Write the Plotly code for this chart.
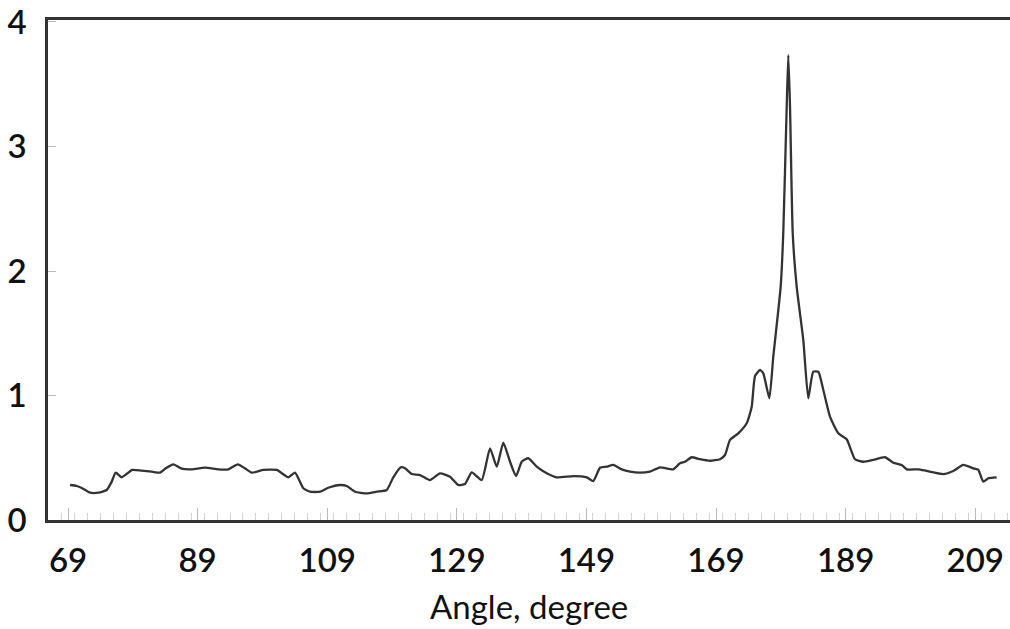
import plotly.graph_objects as go

angle = [69.31, 70.34, 71.11, 72.40, 73.68, 74.97, 75.74, 76.36, 77.29, 78.92,
         80.37, 81.92, 83.20, 84.08, 85.25, 86.55, 88.09, 90.14, 92.19, 93.74,
         95.19, 96.31, 97.35, 99.14, 101.21, 103.00, 104.03, 105.31, 106.35, 107.89,
         109.17, 110.98, 112.01, 113.29, 115.10, 116.64, 118.18, 119.20, 120.34, 121.01,
         122.04, 123.32, 124.86, 126.41, 127.95, 129.23, 130.27, 131.30, 132.84, 134.12,
         135.16, 136.18, 137.21, 138.14, 139.02, 140.03, 141.33, 142.87, 144.42, 146.98,
         149.05, 150.06, 151.10, 152.13, 153.15, 154.45, 155.73, 157.27, 158.81, 160.36,
         162.41, 163.44, 164.21, 165.25, 166.53, 168.07, 169.62, 170.39, 171.16, 172.44,
         173.74, 174.51, 175.02, 175.79, 176.30, 177.23, 177.84, 178.98, 179.38, 179.91,
         180.16, 180.42, 180.84, 181.45, 182.47, 183.24, 184.01, 184.79, 185.56, 186.59,
         187.88, 189.17, 190.45, 191.73, 193.27, 195.08, 196.36, 197.66, 198.43, 200.22,
         201.51, 204.08, 205.62, 207.16, 208.71, 209.48, 210.25, 211.02, 212.31]

value = [0.281, 0.273, 0.257, 0.219, 0.219, 0.241, 0.308, 0.380, 0.343, 0.402,
         0.396, 0.388, 0.380, 0.415, 0.447, 0.412, 0.407, 0.420, 0.407, 0.407,
         0.447, 0.415, 0.380, 0.402, 0.402, 0.343, 0.380, 0.255, 0.227, 0.227,
         0.259, 0.281, 0.273, 0.227, 0.214, 0.227, 0.241, 0.343, 0.423, 0.415,
         0.369, 0.361, 0.321, 0.375, 0.348, 0.281, 0.289, 0.383, 0.321, 0.576,
         0.428, 0.621, 0.468, 0.353, 0.468, 0.496, 0.428, 0.375, 0.343, 0.353,
         0.343, 0.313, 0.420, 0.428, 0.442, 0.407, 0.388, 0.380, 0.388, 0.423,
         0.407, 0.455, 0.468, 0.504, 0.488, 0.476, 0.488, 0.522, 0.643, 0.696,
         0.777, 0.910, 1.157, 1.205, 1.178, 0.978, 1.312, 1.874, 2.303, 3.320,
         3.735, 3.320, 2.303, 1.874, 1.446, 0.978, 1.191, 1.191, 1.044, 0.830,
         0.696, 0.648, 0.488, 0.468, 0.482, 0.504, 0.460, 0.442, 0.407, 0.407,
         0.394, 0.369, 0.394, 0.442, 0.415, 0.402, 0.308, 0.335, 0.343]

x_ticks = [69, 89, 109, 129, 149, 169, 189, 209]
y_ticks = [0, 1, 2, 3, 4]
x_title = "Angle, degree"

FONT = "Lato"

fig = go.Figure()
fig.add_trace(go.Scatter(
    x=angle, y=value, mode="lines",
    line=dict(color="#333333", width=2.3, shape="spline", smoothing=0.5),
    showlegend=False, hoverinfo="skip",
))

fig.update_layout(
    width=1010, height=629,
    margin=dict(l=48, r=0, t=20, b=109),
    paper_bgcolor="white", plot_bgcolor="white",
    font=dict(family=FONT, color="#111111"),
    annotations=[dict(
        text=x_title, xref="paper", yref="paper", x=0.5, y=-0.172,
        xanchor="center", yanchor="middle", showarrow=False,
        font=dict(family=FONT, size=33, color="#111111"),
    )],
)

fig.update_xaxes(
    range=[65.91, 214.37],
    tickvals=x_ticks, ticktext=[str(t) for t in x_ticks],
    showgrid=False, zeroline=False,
    showline=True, linecolor="#333333", linewidth=2.5, mirror=True,
    ticks="inside", ticklen=12, tickcolor="#bbbbbb", tickwidth=1,
    minor=dict(ticks="inside", ticklen=7, tickcolor="#d0d0d0", dtick=2, tickwidth=1),
    ticklabelstandoff=10,
    tickfont=dict(family=FONT, size=33, color="#111111", weight=600),
)
fig.update_yaxes(
    range=[0, 4.016],
    tickvals=y_ticks, ticktext=[str(t) for t in y_ticks],
    showgrid=False, zeroline=False,
    showline=True, linecolor="#333333", linewidth=2.5,
    ticks="inside", ticklen=8, tickcolor="#bbbbbb", tickwidth=1,
    ticklabelstandoff=12,
    tickfont=dict(family=FONT, size=33, color="#111111", weight=600),
)

fig.write_html("out.html")
